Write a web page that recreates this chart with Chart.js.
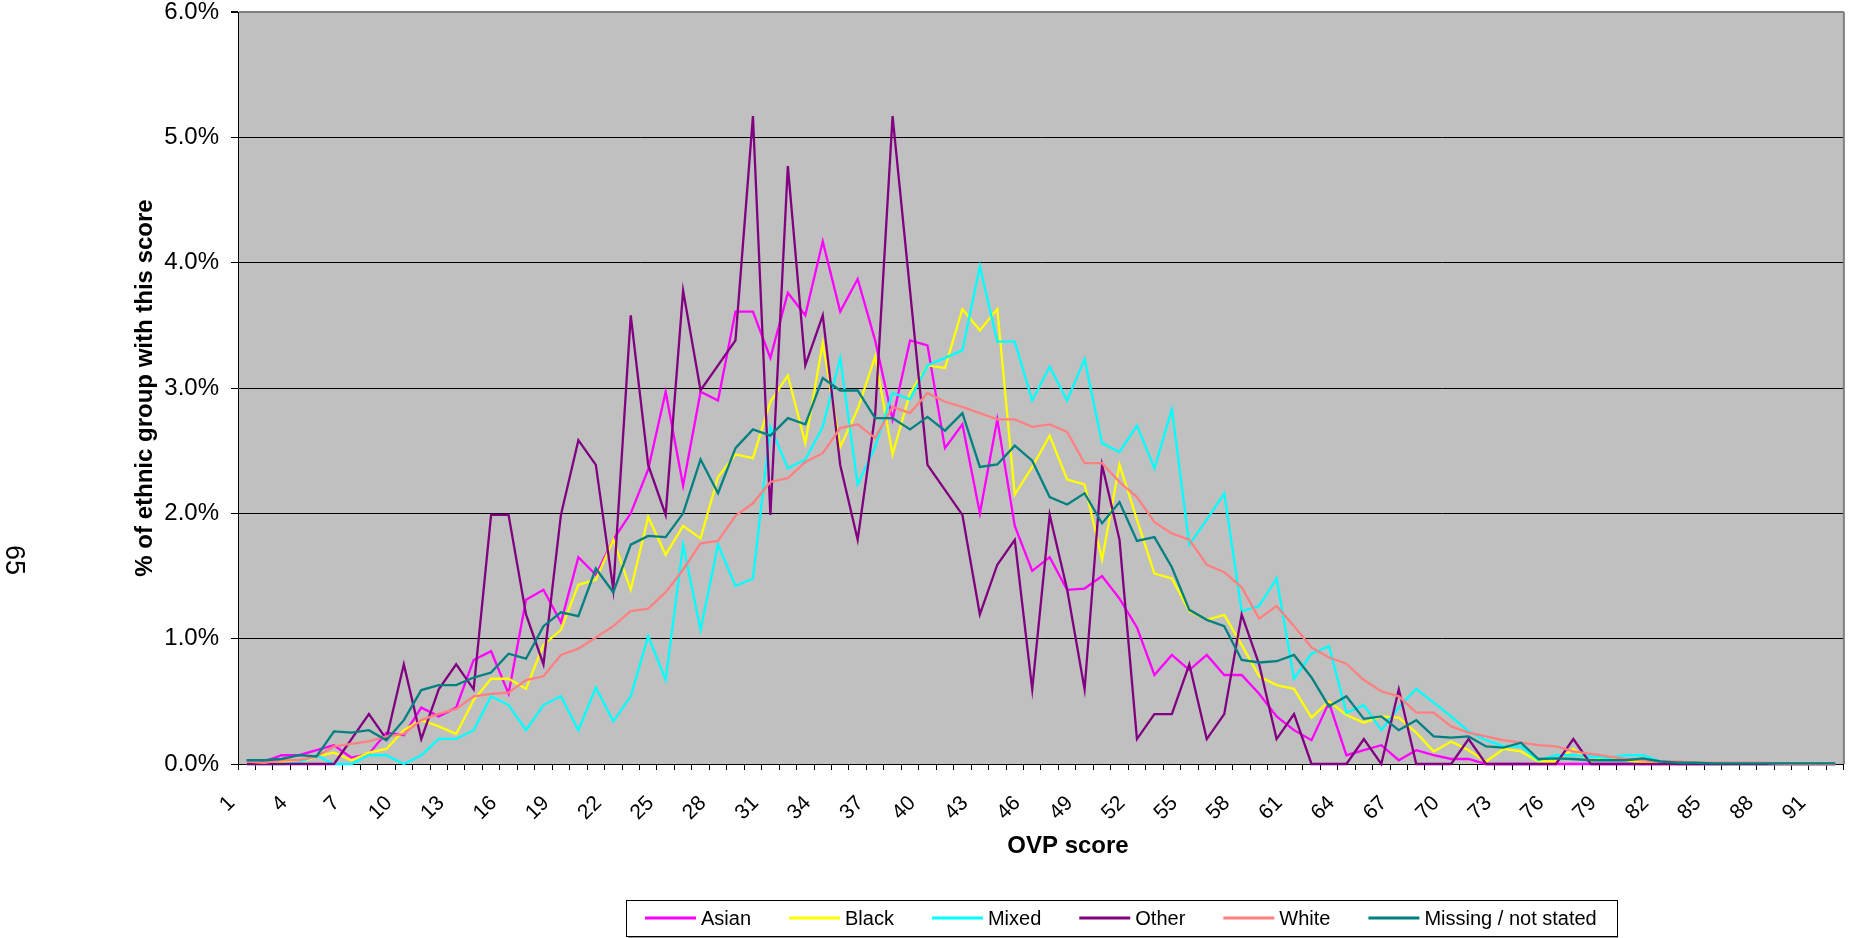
<!DOCTYPE html>
<html>
<head>
<meta charset="utf-8">
<title>OVP score by ethnic group</title>
<script src="https://cdn.jsdelivr.net/npm/chart.js@4/dist/chart.umd.min.js"></script>
<style>
  html, body { margin: 0; padding: 0; background: #fff; }
  canvas { display: block; }
</style>
</head>
<body>
<canvas id="ovpChart" width="1874" height="938"></canvas>
<script>
// OVP score categories 1..92
const scores = [1,2,3,4,5,6,7,8,9,10,11,12,13,14,15,16,17,18,19,20,21,22,23,24,25,26,27,28,29,30,
  31,32,33,34,35,36,37,38,39,40,41,42,43,44,45,46,47,48,49,50,51,52,53,54,55,56,57,58,59,60,
  61,62,63,64,65,66,67,68,69,70,71,72,73,74,75,76,77,78,79,80,81,82,83,84,85,86,87,88,89,90,91,92];

// % of each ethnic group with this score
const asian = [0.03,0.02,0.07,0.07,0.11,0.15,0.05,0.08,0.25,0.23,0.45,0.38,0.45,0.83,0.90,0.56,1.31,1.39,1.13,1.65,
  1.51,1.79,2.00,2.35,2.97,2.22,2.97,2.90,3.61,3.61,3.24,3.76,3.58,4.17,3.61,3.87,3.38,2.75,3.38,3.34,
  2.52,2.71,2.00,2.75,1.90,1.54,1.65,1.39,1.40,1.50,1.32,1.09,0.71,0.87,0.75,0.87,0.71,0.71,0.56,0.38,
  0.27,0.19,0.49,0.07,0.11,0.15,0.03,0.11,0.07,0.04,0.04,0,0,0,0,0,0,0,0,0,
  0,0,0,0,0,0,0,0,0,0,0,0];
const black = [0.00,0.00,0.02,0.01,0.06,0.09,0.03,0.09,0.12,0.27,0.35,0.30,0.24,0.51,0.68,0.68,0.60,0.95,1.07,1.43,
  1.47,1.79,1.39,1.97,1.67,1.90,1.80,2.29,2.47,2.44,2.89,3.10,2.56,3.36,2.53,2.83,3.25,2.47,2.96,3.18,
  3.16,3.63,3.46,3.63,2.15,2.37,2.62,2.27,2.23,1.63,2.39,1.95,1.52,1.48,1.22,1.15,1.19,0.95,0.70,0.63,
  0.60,0.37,0.50,0.39,0.33,0.38,0.37,0.25,0.10,0.18,0.11,0.02,0.12,0.10,0.02,0.02,0.12,0.02,0.06,0.03,
  0.01,0,0,0,0,0,0,0,0,0,0,0];
const mixed = [0,0,0,0.01,0.07,0,0,0.07,0.07,0,0.07,0.20,0.20,0.27,0.54,0.47,0.27,0.47,0.54,0.27,
  0.61,0.34,0.54,1.02,0.67,1.75,1.07,1.75,1.42,1.48,2.69,2.36,2.43,2.69,3.24,2.23,2.53,2.96,2.91,3.18,
  3.24,3.30,3.97,3.37,3.37,2.90,3.17,2.90,3.23,2.56,2.49,2.70,2.36,2.83,1.75,1.95,2.16,1.22,1.26,1.48,
  0.68,0.88,0.94,0.41,0.47,0.27,0.45,0.60,0.49,0.38,0.26,0.19,0.14,0.14,0.03,0.07,0.07,0.06,0.05,0.07,
  0.07,0.02,0,0,0,0,0,0,0,0,0,0];
const other = [0,0,0,0,0,0,0.199,0.398,0.199,0.795,0.199,0.596,0.795,0.596,1.988,1.988,1.193,0.795,1.988,2.584,
  2.386,1.392,3.579,2.386,1.988,3.777,2.982,3.181,3.380,5.169,1.988,4.771,3.181,3.579,2.386,1.789,2.783,5.169,3.777,2.386,
  2.187,1.988,1.193,1.590,1.789,0.596,1.988,1.392,0.596,2.386,1.789,0.199,0.398,0.398,0.795,0.199,0.398,1.193,0.795,0.199,
  0.398,0,0,0,0.199,0,0.596,0,0,0,0.199,0,0,0,0,0,0.199,0,0,0,
  0,0,0,0,0,0,0,0,0,0,0,0];
const white = [0.02,0.01,0.03,0.03,0.06,0.14,0.16,0.18,0.22,0.24,0.35,0.40,0.44,0.54,0.56,0.57,0.67,0.70,0.87,0.92,
  1.01,1.10,1.22,1.24,1.37,1.55,1.76,1.78,1.98,2.08,2.25,2.28,2.41,2.48,2.68,2.71,2.60,2.85,2.80,2.96,
  2.89,2.85,2.80,2.75,2.75,2.69,2.71,2.65,2.40,2.40,2.25,2.13,1.93,1.84,1.79,1.59,1.53,1.41,1.16,1.26,
  1.10,0.93,0.85,0.80,0.67,0.58,0.54,0.41,0.41,0.30,0.25,0.22,0.19,0.17,0.15,0.14,0.10,0.08,0.06,0.04,
  0.03,0.02,0.02,0.01,0.01,0.01,0.01,0.01,0,0,0,0];
const missing = [0.03,0.03,0.04,0.07,0.06,0.26,0.25,0.27,0.19,0.35,0.59,0.63,0.63,0.69,0.73,0.88,0.84,1.10,1.21,1.18,
  1.56,1.37,1.75,1.82,1.81,2.00,2.43,2.16,2.52,2.67,2.62,2.76,2.71,3.08,2.98,2.98,2.76,2.76,2.67,2.77,
  2.66,2.80,2.37,2.39,2.54,2.42,2.13,2.07,2.16,1.92,2.09,1.78,1.81,1.57,1.23,1.15,1.10,0.83,0.81,0.82,
  0.87,0.69,0.46,0.54,0.36,0.38,0.27,0.35,0.22,0.21,0.22,0.14,0.13,0.17,0.04,0.045,0.04,0.03,0.03,0.03,
  0.045,0.02,0.01,0.01,0.005,0.005,0.005,0.005,0.005,0.005,0.005,0.005];

const FONT = '"Liberation Sans", Arial, sans-serif';
Chart.defaults.font.family = FONT;
Chart.defaults.color = '#000';

const series = [
  { label: 'Asian', data: asian, color: '#FF00FF' },
  { label: 'Black', data: black, color: '#FFFF00' },
  { label: 'Mixed', data: mixed, color: '#00FFFF' },
  { label: 'Other', data: other, color: '#800080' },
  { label: 'White', data: white, color: '#FF8080' },
  { label: 'Missing / not stated', data: missing, color: '#008080' }
];

// grey plot area, right border, x title, boxed legend and the page number
const frame = {
  id: 'frame',
  beforeDraw(chart) {
    const { ctx, chartArea: a } = chart;
    ctx.save();
    ctx.fillStyle = '#fff';
    ctx.fillRect(0, 0, chart.width, chart.height);
    ctx.fillStyle = '#C0C0C0';
    ctx.fillRect(a.left, a.top, a.right - a.left, a.bottom - a.top);
    ctx.restore();
  },
  afterDraw(chart) {
    const { ctx, chartArea: a } = chart;
    ctx.save();
    ctx.strokeStyle = '#808080';
    ctx.lineWidth = 2;
    ctx.beginPath();
    ctx.moveTo(a.right, a.top);
    ctx.lineTo(a.right, a.bottom);
    ctx.stroke();

    // x axis title (sits a little right of the plot centre in the original)
    ctx.fillStyle = '#000';
    ctx.font = 'bold 24px ' + FONT;
    ctx.textAlign = 'center';
    ctx.textBaseline = 'middle';
    ctx.fillText('OVP score', 1068, 846);

    // legend
    ctx.fillStyle = '#fff';
    ctx.fillRect(626, 900, 991, 36);
    ctx.strokeStyle = '#999';
    ctx.lineWidth = 2;
    ctx.beginPath();
    ctx.moveTo(628, 937.5);
    ctx.lineTo(1618, 937.5);
    ctx.stroke();
    ctx.strokeStyle = '#000';
    ctx.lineWidth = 1;
    ctx.strokeRect(626.5, 900.5, 991, 36);
    ctx.font = '20px ' + FONT;
    ctx.textAlign = 'left';
    let x = 645;
    const y = 918;
    chart.data.datasets.forEach(ds => {
      ctx.strokeStyle = ds.borderColor;
      ctx.lineWidth = 3;
      ctx.beginPath();
      ctx.moveTo(x, y);
      ctx.lineTo(x + 51, y);
      ctx.stroke();
      ctx.fillStyle = '#000';
      ctx.fillText(ds.label, x + 56, y + 1);
      x += 56 + ctx.measureText(ds.label).width + 38;
    });

    // page number in the margin
    ctx.translate(13, 560);
    ctx.rotate(Math.PI / 2);
    ctx.font = '27px ' + FONT;
    ctx.textAlign = 'center';
    ctx.fillText('65', 0, 0);
    ctx.restore();
  }
};

const ctx = document.getElementById('ovpChart').getContext('2d');
new Chart(ctx, {
  type: 'line',
  data: {
    labels: scores,
    datasets: series.map((s, i) => ({
      label: s.label,
      data: s.data,
      borderColor: s.color,
      backgroundColor: s.color,
      borderWidth: 2.3,
      pointRadius: 0,
      tension: 0,
      fill: false,
      clip: 3,
      order: series.length - i
    }))
  },
  options: {
    responsive: false,
    animation: false,
    devicePixelRatio: 1,
    layout: { padding: { top: 0, right: 3, bottom: 0, left: 0 } },
    plugins: {
      legend: { display: false },
      tooltip: { enabled: false }
    },
    scales: {
      x: {
        type: 'category',
        offset: true,
        afterFit: scale => { scale.height = 174; },
        grid: {
          display: true,
          drawOnChartArea: false,
          drawTicks: true,
          tickLength: 6,
          offset: true,
          color: '#000'
        },
        border: { display: true, color: '#000', width: 1 },
        ticks: {
          autoSkip: false,
          minRotation: 45,
          maxRotation: 45,
          padding: 21,
          labelOffset: -15,
          color: '#000',
          font: { size: 21 },
          callback: function (val, idx) {
            return idx % 3 === 0 ? this.getLabelForValue(val) : '';
          }
        },
        title: { display: false }
      },
      y: {
        min: 0,
        max: 6,
        afterFit: scale => {
          scale.width = 238;
          scale.paddingTop = 12;
          scale.paddingBottom = 12;
        },
        grid: {
          color: c => c.tick.value === 6 ? '#808080' : '#000',
          lineWidth: c => c.tick.value === 6 ? 2 : 1,
          tickColor: '#000',
          tickLength: 7
        },
        border: { display: true, color: '#000', width: 1 },
        ticks: {
          stepSize: 1,
          padding: 12,
          color: '#000',
          font: { size: 24, lineHeight: 1 },
          callback: v => v.toFixed(1) + '%'
        },
        title: {
          display: true,
          text: '% of ethnic group with this score',
          color: '#000',
          font: { size: 24, weight: 'bold' },
          padding: { top: 131, bottom: 0 }
        }
      }
    }
  },
  plugins: [frame]
});
</script>
</body>
</html>
